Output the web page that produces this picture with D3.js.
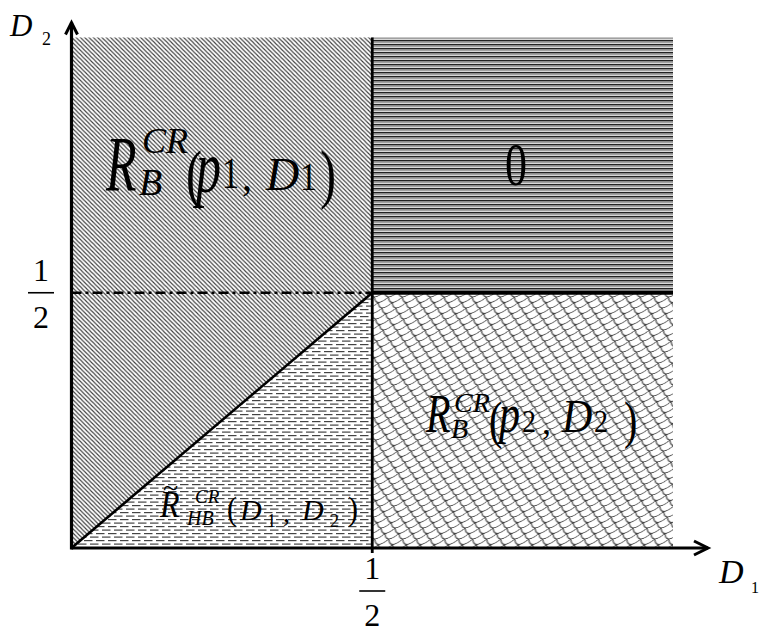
<!DOCTYPE html>
<html>
<head>
<meta charset="utf-8">
<style>
  body { margin: 0; background: #fff; }
</style>
</head>
<body>
<script src="https://cdn.jsdelivr.net/npm/d3@7/dist/d3.min.js"></script>
<script>
// region corners in (D1, D2) units
var regionNames = ["upperLeft", "lowerLeft", "upperRight", "lowerRight"];
var regionPoints = [
  [[0, 0], [0, 1], [0.5, 1], [0.5, 0.5]],
  [[0, 0], [0.5, 0.5], [0.5, 0]],
  [[0.5, 0.5], [0.5, 1], [1, 1], [1, 0.5]],
  [[0.5, 0], [0.5, 0.5], [1, 0.5], [1, 0]]
];
var half = 0.5;
var fracLabels = ["1", "2"];

var serif = "'Liberation Serif', 'Times New Roman', Times, 'DejaVu Serif', serif";
var fills = { upperLeft: "url(#hatch)", lowerLeft: "url(#dashes)", upperRight: "url(#stripes)", lowerRight: "url(#scales)" };

var x = d3.scaleLinear().domain([0, 1]).range([71.5, 673]);
var y = d3.scaleLinear().domain([0, 1]).range([548, 37.5]);

var svg = d3.select("body").append("svg")
  .attr("width", 759)
  .attr("height", 630);

var defs = svg.append("defs");

// diagonal hatch
var p1 = defs.append("pattern").attr("id", "hatch")
  .attr("patternUnits", "userSpaceOnUse").attr("width", 4.3).attr("height", 4.3);
p1.append("path")
  .attr("d", "M-1,-1 L5.3,5.3 M-1,3.3 L1,5.3 M3.3,-1 L5.3,1")
  .attr("stroke", "#3a3a3a").attr("stroke-width", 1.1);

// horizontal stripes
var p2 = defs.append("pattern").attr("id", "stripes")
  .attr("patternUnits", "userSpaceOnUse").attr("width", 4).attr("height", 4);
p2.append("rect").attr("width", 4).attr("height", 4).attr("fill", "#d8d8d8");
p2.append("rect").attr("y", 0).attr("width", 4).attr("height", 1.4).attr("fill", "#222");
p2.append("rect").attr("y", 1.4).attr("width", 4).attr("height", 1.3).attr("fill", "#8a8a8a");

// dashed rows
var p3 = defs.append("pattern").attr("id", "dashes")
  .attr("patternUnits", "userSpaceOnUse").attr("width", 12).attr("height", 7);
p3.append("rect").attr("x", 0).attr("y", 1).attr("width", 8.5).attr("height", 1.2).attr("fill", "#444");
p3.append("rect").attr("x", 6).attr("y", 4.5).attr("width", 8.5).attr("height", 1.2).attr("fill", "#444");
p3.append("rect").attr("x", -6).attr("y", 4.5).attr("width", 8.5).attr("height", 1.2).attr("fill", "#444");

// scales
var p4 = defs.append("pattern").attr("id", "scales")
  .attr("patternUnits", "userSpaceOnUse").attr("width", 14).attr("height", 11)
  .attr("patternTransform", "skewX(-30)");
p4.append("path")
  .attr("d", "M0,0 Q7,11 14,0 M-7,5.5 Q0,16.5 7,5.5 M7,5.5 Q14,16.5 21,5.5")
  .attr("fill", "none").attr("stroke", "#3a3a3a").attr("stroke-width", 1);

var line = d3.line().x(function(d) { return x(d[0]); }).y(function(d) { return y(d[1]); });

svg.selectAll(".region")
  .data(regionPoints)
  .enter().append("path")
  .attr("class", "region")
  .attr("d", function(d) { return line(d) + "Z"; })
  .attr("fill", function(d, i) { return fills[regionNames[i]]; });

// boundaries
svg.append("path").attr("d", line([[0, half], [half, half]]))
  .attr("stroke", "#000").attr("stroke-width", 2.6).attr("stroke-dasharray", "10,4,3,4");
svg.append("path").attr("d", line([[half, half], [1, half]]))
  .attr("stroke", "#000").attr("stroke-width", 4);
svg.append("path").attr("d", line([[0, 0], [half, half]]))
  .attr("stroke", "#000").attr("stroke-width", 2.6);
svg.append("line")
  .attr("x1", x(half)).attr("x2", x(half))
  .attr("y1", y(1)).attr("y2", y(0) + 5)
  .attr("stroke", "#000").attr("stroke-width", 2.8);

// axes with arrows
var x0 = x(0), y0 = y(0);
var xEnd = x.range()[1] + 35, yEnd = y.range()[1] - 15;
svg.append("line").attr("x1", x0).attr("y1", y0).attr("x2", xEnd).attr("y2", y0)
  .attr("stroke", "#000").attr("stroke-width", 3.2);
svg.append("line").attr("x1", x0).attr("y1", y0 + 1.5).attr("x2", x0).attr("y2", yEnd)
  .attr("stroke", "#000").attr("stroke-width", 3.2);
svg.append("path").attr("d", "M" + (xEnd - 14) + "," + (y0 - 7) + "L" + xEnd + "," + y0 + "L" + (xEnd - 14) + "," + (y0 + 7))
  .attr("fill", "none").attr("stroke", "#000").attr("stroke-width", 3);
svg.append("path").attr("d", "M" + (x0 - 6) + "," + (yEnd + 12) + "L" + x0 + "," + yEnd + "L" + (x0 + 6) + "," + (yEnd + 12))
  .attr("fill", "none").attr("stroke", "#000").attr("stroke-width", 3);

// text pieces: [string, x, baseline, size, yStretch, italic]
function piece(g, p) {
  g.append("text")
    .attr("transform", "translate(" + p[1] + "," + p[2] + ") scale(1," + p[4] + ")")
    .attr("font-family", serif)
    .attr("font-size", p[3])
    .attr("font-style", p[5] ? "italic" : "normal")
    .text(p[0]);
}
function label(pieces) {
  var g = svg.append("g");
  pieces.forEach(function(p) { piece(g, p); });
}

// axis names
label([["D", 10, 36, 31, 1, true], ["2", 42, 45, 18, 1, false]]);
label([["D", 719, 583, 34, 1, true], ["1", 751, 593, 16, 1, false]]);

// 1/2 fractions
function fraction(cx, top) {
  var g = svg.append("g");
  g.append("text").attr("x", cx).attr("y", top + 22).attr("text-anchor", "middle")
    .attr("font-family", serif).attr("font-size", 32).text(fracLabels[0]);
  g.append("line").attr("x1", cx - 13).attr("x2", cx + 13)
    .attr("y1", top + 34).attr("y2", top + 34)
    .attr("stroke", "#000").attr("stroke-width", 1.6);
  g.append("text").attr("x", cx).attr("y", top + 69).attr("text-anchor", "middle")
    .attr("font-family", serif).attr("font-size", 32).text(fracLabels[1]);
}
fraction(41, y(half) - 34);
fraction(x(half), 557);

// region labels
label([
  ["R", 106, 190, 50, 1.55, true],
  ["CR", 142, 153, 36, 1, true],
  ["B", 139, 195, 38, 1, true],
  ["(", 186, 196, 48, 1.35, false],
  ["p", 196, 192, 50, 1.5, true],
  ["1", 222, 188, 34, 1.3, false],
  [",", 242, 190, 40, 1, false],
  ["D", 266, 190, 46, 1, true],
  ["1", 300, 190, 34, 1.2, false],
  [")", 320, 196, 48, 1.35, false]
]);

label([["0", 505, 185, 44, 1.4, false]]);

label([
  ["R", 426, 432, 40, 1.35, true],
  ["CR", 454, 412, 28, 1, true],
  ["B", 451, 438, 28, 1, true],
  ["(", 489, 438, 40, 1.3, false],
  ["p", 499, 432, 42, 1.3, true],
  ["2", 522, 432, 28, 1.1, false],
  [",", 542, 434, 36, 1, false],
  ["D", 562, 432, 42, 1.1, true],
  ["2", 594, 432, 28, 1.1, false],
  [")", 624, 438, 40, 1.3, false]
]);

label([
  ["~", 163, 497, 28, 1, false],
  ["R", 160, 517, 32, 1.2, true],
  ["CR", 195, 503, 19, 1, true],
  ["HB", 187, 525, 20, 1, true],
  ["(", 227, 520, 30, 1.1, false],
  ["D", 240, 520, 30, 1, true],
  ["1", 267, 527, 18, 1, false],
  [",", 283, 522, 28, 1, false],
  ["D", 302, 520, 30, 1, true],
  ["2", 330, 527, 18, 1, false],
  [")", 348, 520, 30, 1.1, false]
]);
</script>
</body>
</html>
